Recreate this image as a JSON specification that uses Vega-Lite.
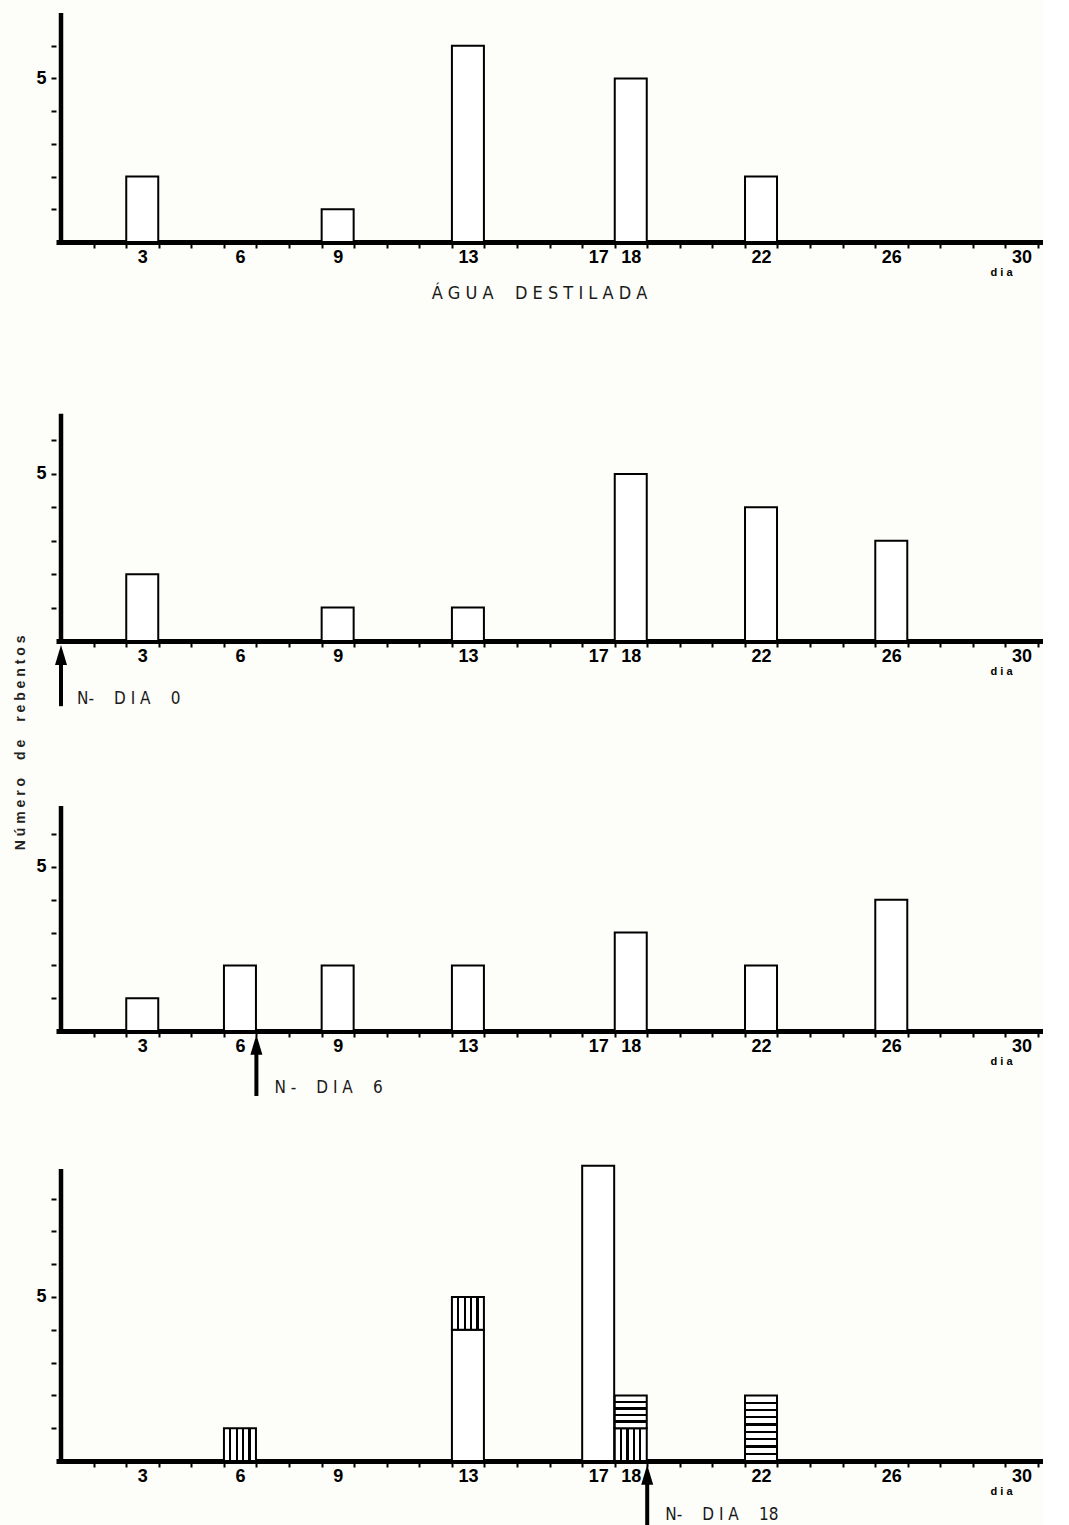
{
  "$schema": "https://vega.github.io/schema/vega-lite/v6.json",
  "background": "#fdfdf9",
  "padding": {"left": 13, "top": 10, "right": 0, "bottom": 0},
  "title": {
    "text": "N ú m e r o \u2003d e \u2003r e b e n t o s",
    "orient": "left",
    "anchor": "middle",
    "frame": "bounds",
    "dx": 26,
    "fontSize": 14,
    "fontWeight": "bold",
    "font": "Liberation Sans",
    "color": "#222",
    "offset": 8
  },
  "datasets": {
    "barras": [
      {"painel": "A", "dia": 3, "tipo": "branco", "de": 0, "ate": 2},
      {"painel": "A", "dia": 9, "tipo": "branco", "de": 0, "ate": 1},
      {"painel": "A", "dia": 13, "tipo": "branco", "de": 0, "ate": 6},
      {"painel": "A", "dia": 18, "tipo": "branco", "de": 0, "ate": 5},
      {"painel": "A", "dia": 22, "tipo": "branco", "de": 0, "ate": 2},
      {"painel": "B", "dia": 3, "tipo": "branco", "de": 0, "ate": 2},
      {"painel": "B", "dia": 9, "tipo": "branco", "de": 0, "ate": 1},
      {"painel": "B", "dia": 13, "tipo": "branco", "de": 0, "ate": 1},
      {"painel": "B", "dia": 18, "tipo": "branco", "de": 0, "ate": 5},
      {"painel": "B", "dia": 22, "tipo": "branco", "de": 0, "ate": 4},
      {"painel": "B", "dia": 26, "tipo": "branco", "de": 0, "ate": 3},
      {"painel": "C", "dia": 3, "tipo": "branco", "de": 0, "ate": 1},
      {"painel": "C", "dia": 6, "tipo": "branco", "de": 0, "ate": 2},
      {"painel": "C", "dia": 9, "tipo": "branco", "de": 0, "ate": 2},
      {"painel": "C", "dia": 13, "tipo": "branco", "de": 0, "ate": 2},
      {"painel": "C", "dia": 18, "tipo": "branco", "de": 0, "ate": 3},
      {"painel": "C", "dia": 22, "tipo": "branco", "de": 0, "ate": 2},
      {"painel": "C", "dia": 26, "tipo": "branco", "de": 0, "ate": 4},
      {"painel": "D", "dia": 6, "tipo": "vertical", "de": 0, "ate": 1},
      {"painel": "D", "dia": 13, "tipo": "branco", "de": 0, "ate": 4},
      {"painel": "D", "dia": 13, "tipo": "vertical", "de": 4, "ate": 5},
      {"painel": "D", "dia": 17, "tipo": "branco", "de": 0, "ate": 9},
      {"painel": "D", "dia": 18, "tipo": "vertical", "de": 0, "ate": 1},
      {"painel": "D", "dia": 18, "tipo": "horizontal", "de": 1, "ate": 2},
      {"painel": "D", "dia": 22, "tipo": "horizontal", "de": 0, "ate": 2}
    ],
    "marcos": [
      {"painel": "B", "dia": 0, "rotulo": "N- \u2003D I A \u20030"},
      {"painel": "C", "dia": 6, "rotulo": "N - \u2003D I A \u20036"},
      {"painel": "D", "dia": 18, "rotulo": "N- \u2003D I A \u200318"}
    ]
  },
  "spacing": 138,
  "bounds": "flush",
  "resolve": {"scale": {"y": "independent", "x": "independent"}},
  "vconcat": [
    {
      "width": 987,
      "height": 229,
      "data": {"name": "barras"},
      "title": {
        "text": "Á G U A \u2003D E S T I L A D A",
        "orient": "bottom",
        "anchor": "middle",
        "offset": 8,
        "dx": -10,
        "fontSize": 18,
        "fontWeight": "normal",
        "font": "'Liberation Sans Narrow', 'DejaVu Sans Condensed', 'Liberation Sans', sans-serif",
        "color": "#1a1a1a"
      },
      "layer": [
        {
          "transform": [{"filter": "datum.painel === 'A' && datum.tipo === 'branco'"}],
          "mark": {"type": "bar", "fill": "white", "stroke": "black", "strokeWidth": 2, "width": 32, "xOffset": -16.45},
          "encoding": {
            "x": {"field": "dia", "type": "quantitative", "scale": {"domain": [0, 30], "nice": false},
              "axis": {"title": "d i a", "titleX": 945, "titleY": 33, "titleAlign": "center", "titleBaseline": "alphabetic", "titleAngle": 0, "titleFontSize": 11, "titleFontWeight": "bold", "titleFont": "Liberation Sans",
                "values": [1,2,3,4,5,6,7,8,9,10,11,12,13,14,15,16,17,18,19,20,21,22,23,24,25,26,27,28,29,30], "tickCount": 60,
                "labelExpr": "indexof([3,6,9,13,17,18,22,26,30], datum.value) >= 0 ? format(datum.value, 'd') : ''",
                "labelOffset": -16.45, "labelFlush": false, "labelOverlap": false, "labelPadding": 0,
                "labelFontSize": 18, "labelFontWeight": "bold", "labelFont": "Liberation Sans",
                "tickSize": 6, "tickWidth": 2, "domainWidth": 5}},
            "y": {"field": "ate", "type": "quantitative", "scale": {"domain": [0, 7], "nice": false},
              "axis": {"title": null, "values": [1,2,3,4,5,6], "tickCount": 20, "labelExpr": "datum.value === 5 ? '5' : ''", "domain": false,
                "labelFontSize": 18, "labelFontWeight": "bold", "labelFont": "Liberation Sans", "labelPadding": 5, "tickSize": 5, "tickWidth": 2}},
            "y2": {"field": "de"}
          }
        },
        {
          "transform": [{"filter": "datum.painel === 'A'"}, {"aggregate": [{"op": "count", "as": "n"}]}],
          "mark": {"type": "rule", "strokeWidth": 4.5, "color": "black"},
          "encoding": {"x": {"datum": 0, "type": "quantitative"}, "y": {"datum": 0, "type": "quantitative"}, "y2": {"datum": 7}}
        }
      ]
    },
    {
      "width": 987,
      "height": 261,
      "data": {"name": "barras"},
      "layer": [
        {
          "transform": [{"filter": "datum.painel === 'B' && datum.tipo === 'branco'"}],
          "mark": {"type": "bar", "fill": "white", "stroke": "black", "strokeWidth": 2, "width": 32, "xOffset": -16.45},
          "encoding": {
            "x": {"field": "dia", "type": "quantitative", "scale": {"domain": [0, 30], "nice": false},
              "axis": {"title": "d i a", "titleX": 945, "titleY": 33, "titleAlign": "center", "titleBaseline": "alphabetic", "titleAngle": 0, "titleFontSize": 11, "titleFontWeight": "bold", "titleFont": "Liberation Sans",
                "values": [1,2,3,4,5,6,7,8,9,10,11,12,13,14,15,16,17,18,19,20,21,22,23,24,25,26,27,28,29,30], "tickCount": 60,
                "labelExpr": "indexof([3,6,9,13,17,18,22,26,30], datum.value) >= 0 ? format(datum.value, 'd') : ''",
                "labelOffset": -16.45, "labelFlush": false, "labelOverlap": false, "labelPadding": 0,
                "labelFontSize": 18, "labelFontWeight": "bold", "labelFont": "Liberation Sans",
                "tickSize": 6, "tickWidth": 2, "domainWidth": 5}},
            "y": {"field": "ate", "type": "quantitative", "scale": {"domain": [0, 7.81], "nice": false},
              "axis": {"title": null, "values": [1,2,3,4,5,6], "tickCount": 20, "labelExpr": "datum.value === 5 ? '5' : ''", "domain": false,
                "labelFontSize": 18, "labelFontWeight": "bold", "labelFont": "Liberation Sans", "labelPadding": 5, "tickSize": 5, "tickWidth": 2}},
            "y2": {"field": "de"}
          }
        },
        {
          "transform": [{"filter": "datum.painel === 'B'"}, {"aggregate": [{"op": "count", "as": "n"}]}],
          "mark": {"type": "rule", "strokeWidth": 4.5, "color": "black"},
          "encoding": {"x": {"datum": 0, "type": "quantitative"}, "y": {"datum": 0, "type": "quantitative"}, "y2": {"datum": 6.8}}
        },
        {
          "data": {"name": "marcos"},
          "transform": [{"filter": "datum.painel === 'B'"}],
          "layer": [
            {"mark": {"type": "rule", "strokeWidth": 4, "color": "black"},
             "encoding": {"x": {"field": "dia", "type": "quantitative"}, "y": {"datum": -0.42, "type": "quantitative"}, "y2": {"datum": -1.95}}},
            {"mark": {"type": "point", "shape": "M-0.6,1L0,-1L0.6,1Z", "size": 400, "filled": true, "color": "black", "opacity": 1},
             "encoding": {"x": {"field": "dia", "type": "quantitative"}, "y": {"datum": -0.42, "type": "quantitative"}}},
            {"mark": {"type": "text", "align": "left", "baseline": "middle", "dx": 16, "fontSize": 17, "font": "'Liberation Sans Narrow', 'DejaVu Sans Condensed', 'Liberation Sans', sans-serif", "color": "#1a1a1a"},
             "encoding": {"x": {"field": "dia", "type": "quantitative"}, "y": {"datum": -1.74, "type": "quantitative"}, "text": {"field": "rotulo"}}}
          ]
        }
      ]
    },
    {
      "width": 987,
      "height": 252,
      "data": {"name": "barras"},
      "layer": [
        {
          "transform": [{"filter": "datum.painel === 'C' && datum.tipo === 'branco'"}],
          "mark": {"type": "bar", "fill": "white", "stroke": "black", "strokeWidth": 2, "width": 32, "xOffset": -16.45},
          "encoding": {
            "x": {"field": "dia", "type": "quantitative", "scale": {"domain": [0, 30], "nice": false},
              "axis": {"title": "d i a", "titleX": 945, "titleY": 33, "titleAlign": "center", "titleBaseline": "alphabetic", "titleAngle": 0, "titleFontSize": 11, "titleFontWeight": "bold", "titleFont": "Liberation Sans",
                "values": [1,2,3,4,5,6,7,8,9,10,11,12,13,14,15,16,17,18,19,20,21,22,23,24,25,26,27,28,29,30], "tickCount": 60,
                "labelExpr": "indexof([3,6,9,13,17,18,22,26,30], datum.value) >= 0 ? format(datum.value, 'd') : ''",
                "labelOffset": -16.45, "labelFlush": false, "labelOverlap": false, "labelPadding": 0,
                "labelFontSize": 18, "labelFontWeight": "bold", "labelFont": "Liberation Sans",
                "tickSize": 6, "tickWidth": 2, "domainWidth": 5}},
            "y": {"field": "ate", "type": "quantitative", "scale": {"domain": [0, 7.68], "nice": false},
              "axis": {"title": null, "values": [1,2,3,4,5,6], "tickCount": 20, "labelExpr": "datum.value === 5 ? '5' : ''", "domain": false,
                "labelFontSize": 18, "labelFontWeight": "bold", "labelFont": "Liberation Sans", "labelPadding": 5, "tickSize": 5, "tickWidth": 2}},
            "y2": {"field": "de"}
          }
        },
        {
          "transform": [{"filter": "datum.painel === 'C'"}, {"aggregate": [{"op": "count", "as": "n"}]}],
          "mark": {"type": "rule", "strokeWidth": 4.5, "color": "black"},
          "encoding": {"x": {"datum": 0, "type": "quantitative"}, "y": {"datum": 0, "type": "quantitative"}, "y2": {"datum": 6.86}}
        },
        {
          "data": {"name": "marcos"},
          "transform": [{"filter": "datum.painel === 'C'"}],
          "layer": [
            {"mark": {"type": "rule", "strokeWidth": 4, "color": "black"},
             "encoding": {"x": {"field": "dia", "type": "quantitative"}, "y": {"datum": -0.42, "type": "quantitative"}, "y2": {"datum": -1.98}}},
            {"mark": {"type": "point", "shape": "M-0.6,1L0,-1L0.6,1Z", "size": 400, "filled": true, "color": "black", "opacity": 1},
             "encoding": {"x": {"field": "dia", "type": "quantitative"}, "y": {"datum": -0.42, "type": "quantitative"}}},
            {"mark": {"type": "text", "align": "left", "baseline": "middle", "dx": 18, "fontSize": 17, "font": "'Liberation Sans Narrow', 'DejaVu Sans Condensed', 'Liberation Sans', sans-serif", "color": "#1a1a1a"},
             "encoding": {"x": {"field": "dia", "type": "quantitative"}, "y": {"datum": -1.74, "type": "quantitative"}, "text": {"field": "rotulo"}}}
          ]
        }
      ]
    },
    {
      "width": 987,
      "height": 292,
      "data": {"name": "barras"},
      "layer": [
        {
          "transform": [{"filter": "datum.painel === 'D' && datum.tipo === 'branco'"}],
          "mark": {"type": "bar", "fill": "white", "stroke": "black", "strokeWidth": 2, "width": 32, "xOffset": -16.45},
          "encoding": {
            "x": {"field": "dia", "type": "quantitative", "scale": {"domain": [0, 30], "nice": false},
              "axis": {"title": "d i a", "titleX": 945, "titleY": 33, "titleAlign": "center", "titleBaseline": "alphabetic", "titleAngle": 0, "titleFontSize": 11, "titleFontWeight": "bold", "titleFont": "Liberation Sans",
                "values": [1,2,3,4,5,6,7,8,9,10,11,12,13,14,15,16,17,18,19,20,21,22,23,24,25,26,27,28,29,30], "tickCount": 60,
                "labelExpr": "indexof([3,6,9,13,17,18,22,26,30], datum.value) >= 0 ? format(datum.value, 'd') : ''",
                "labelOffset": -16.45, "labelFlush": false, "labelOverlap": false, "labelPadding": 0,
                "labelFontSize": 18, "labelFontWeight": "bold", "labelFont": "Liberation Sans",
                "tickSize": 6, "tickWidth": 2, "domainWidth": 5}},
            "y": {"field": "ate", "type": "quantitative", "scale": {"domain": [0, 8.9], "nice": false},
              "axis": {"title": null, "values": [1,2,3,4,5,6,7,8], "tickCount": 20, "labelExpr": "datum.value === 5 ? '5' : ''", "domain": false,
                "labelFontSize": 18, "labelFontWeight": "bold", "labelFont": "Liberation Sans", "labelPadding": 5, "tickSize": 5, "tickWidth": 2}},
            "y2": {"field": "de"}
          }
        },
        {
          "transform": [{"filter": "datum.painel === 'D' && datum.tipo === 'vertical'"}],
          "mark": {"type": "bar", "stroke": "black", "strokeWidth": 2, "width": 32, "xOffset": -16.45,
            "fill": {"gradient": "linear", "x1": 0, "y1": 0, "x2": 1, "y2": 0, "stops": [
              {"offset": 0, "color": "white"},
              {"offset": 0.165, "color": "white"}, {"offset": 0.165, "color": "black"}, {"offset": 0.235, "color": "black"}, {"offset": 0.235, "color": "white"},
              {"offset": 0.365, "color": "white"}, {"offset": 0.365, "color": "black"}, {"offset": 0.435, "color": "black"}, {"offset": 0.435, "color": "white"},
              {"offset": 0.565, "color": "white"}, {"offset": 0.565, "color": "black"}, {"offset": 0.635, "color": "black"}, {"offset": 0.635, "color": "white"},
              {"offset": 0.765, "color": "white"}, {"offset": 0.765, "color": "black"}, {"offset": 0.835, "color": "black"}, {"offset": 0.835, "color": "white"},
              {"offset": 1, "color": "white"}]}},
          "encoding": {
            "x": {"field": "dia", "type": "quantitative"},
            "y": {"field": "ate", "type": "quantitative"},
            "y2": {"field": "de"}
          }
        },
        {
          "transform": [{"filter": "datum.painel === 'D' && datum.tipo === 'horizontal' && datum.ate - datum.de < 1.5"}],
          "mark": {"type": "bar", "stroke": "black", "strokeWidth": 2, "width": 32, "xOffset": -16.45,
            "fill": {"gradient": "linear", "x1": 0, "y1": 0, "x2": 0, "y2": 1, "stops": [
              {"offset": 0, "color": "white"},
              {"offset": 0.165, "color": "white"}, {"offset": 0.165, "color": "black"}, {"offset": 0.235, "color": "black"}, {"offset": 0.235, "color": "white"},
              {"offset": 0.365, "color": "white"}, {"offset": 0.365, "color": "black"}, {"offset": 0.435, "color": "black"}, {"offset": 0.435, "color": "white"},
              {"offset": 0.565, "color": "white"}, {"offset": 0.565, "color": "black"}, {"offset": 0.635, "color": "black"}, {"offset": 0.635, "color": "white"},
              {"offset": 0.765, "color": "white"}, {"offset": 0.765, "color": "black"}, {"offset": 0.835, "color": "black"}, {"offset": 0.835, "color": "white"},
              {"offset": 1, "color": "white"}]}},
          "encoding": {
            "x": {"field": "dia", "type": "quantitative"},
            "y": {"field": "ate", "type": "quantitative"},
            "y2": {"field": "de"}
          }
        },
        {
          "transform": [{"filter": "datum.painel === 'D' && datum.tipo === 'horizontal' && datum.ate - datum.de >= 1.5"}],
          "mark": {"type": "bar", "stroke": "black", "strokeWidth": 2, "width": 32, "xOffset": -16.45,
            "fill": {"gradient": "linear", "x1": 0, "y1": 0, "x2": 0, "y2": 1, "stops": [
              {"offset": 0, "color": "white"},
              {"offset": 0.094, "color": "white"}, {"offset": 0.094, "color": "black"}, {"offset": 0.128, "color": "black"}, {"offset": 0.128, "color": "white"},
              {"offset": 0.205, "color": "white"}, {"offset": 0.205, "color": "black"}, {"offset": 0.239, "color": "black"}, {"offset": 0.239, "color": "white"},
              {"offset": 0.316, "color": "white"}, {"offset": 0.316, "color": "black"}, {"offset": 0.350, "color": "black"}, {"offset": 0.350, "color": "white"},
              {"offset": 0.427, "color": "white"}, {"offset": 0.427, "color": "black"}, {"offset": 0.461, "color": "black"}, {"offset": 0.461, "color": "white"},
              {"offset": 0.539, "color": "white"}, {"offset": 0.539, "color": "black"}, {"offset": 0.573, "color": "black"}, {"offset": 0.573, "color": "white"},
              {"offset": 0.650, "color": "white"}, {"offset": 0.650, "color": "black"}, {"offset": 0.684, "color": "black"}, {"offset": 0.684, "color": "white"},
              {"offset": 0.761, "color": "white"}, {"offset": 0.761, "color": "black"}, {"offset": 0.795, "color": "black"}, {"offset": 0.795, "color": "white"},
              {"offset": 0.872, "color": "white"}, {"offset": 0.872, "color": "black"}, {"offset": 0.906, "color": "black"}, {"offset": 0.906, "color": "white"},
              {"offset": 1, "color": "white"}]}},
          "encoding": {
            "x": {"field": "dia", "type": "quantitative"},
            "y": {"field": "ate", "type": "quantitative"},
            "y2": {"field": "de"}
          }
        },
        {
          "transform": [{"filter": "datum.painel === 'D'"}, {"aggregate": [{"op": "count", "as": "n"}]}],
          "mark": {"type": "rule", "strokeWidth": 4.5, "color": "black"},
          "encoding": {"x": {"datum": 0, "type": "quantitative"}, "y": {"datum": 0, "type": "quantitative"}, "y2": {"datum": 8.9}}
        },
        {
          "data": {"name": "marcos"},
          "transform": [{"filter": "datum.painel === 'D'"}],
          "layer": [
            {"mark": {"type": "rule", "strokeWidth": 4, "color": "black"},
             "encoding": {"x": {"field": "dia", "type": "quantitative"}, "y": {"datum": -0.42, "type": "quantitative"}, "y2": {"datum": -1.95}}},
            {"mark": {"type": "point", "shape": "M-0.6,1L0,-1L0.6,1Z", "size": 400, "filled": true, "color": "black", "opacity": 1},
             "encoding": {"x": {"field": "dia", "type": "quantitative"}, "y": {"datum": -0.42, "type": "quantitative"}}},
            {"mark": {"type": "text", "align": "left", "baseline": "middle", "dx": 18, "fontSize": 17, "font": "'Liberation Sans Narrow', 'DejaVu Sans Condensed', 'Liberation Sans', sans-serif", "color": "#1a1a1a"},
             "encoding": {"x": {"field": "dia", "type": "quantitative"}, "y": {"datum": -1.65, "type": "quantitative"}, "text": {"field": "rotulo"}}}
          ]
        }
      ]
    }
  ],
  "config": {
    "view": {"stroke": null},
    "font": "Liberation Sans",
    "axis": {"grid": false, "domainColor": "black", "tickColor": "black", "labelColor": "black", "titleColor": "black"}
  }
}
